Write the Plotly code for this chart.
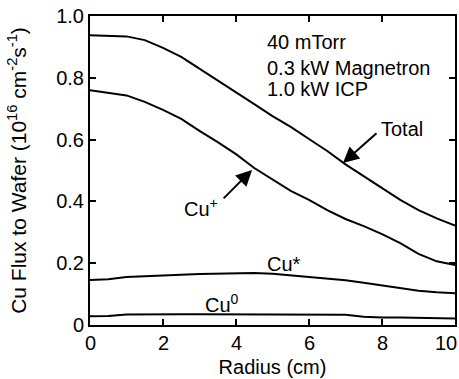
import plotly.graph_objects as go

# Radial positions on the wafer (cm)
radius = [0, 0.5, 1.0, 1.5, 2.0, 2.5, 3.0, 3.5, 4.0, 4.5, 5.0,
          5.5, 6.0, 6.5, 7.0, 7.5, 8.0, 8.5, 9.0, 9.5, 10.0]

# Cu flux components to the wafer (1e16 cm^-2 s^-1)
flux_total = [0.938, 0.937, 0.934, 0.922, 0.897, 0.868, 0.830, 0.793, 0.754, 0.715, 0.676,
              0.641, 0.602, 0.563, 0.520, 0.482, 0.442, 0.405, 0.372, 0.345, 0.322]
flux_ion = [0.760, 0.752, 0.743, 0.722, 0.696, 0.667, 0.628, 0.592, 0.553, 0.508, 0.472,
            0.434, 0.405, 0.372, 0.343, 0.320, 0.294, 0.265, 0.230, 0.206, 0.194]
flux_excited = [0.146, 0.148, 0.155, 0.158, 0.162, 0.163, 0.165, 0.166, 0.168, 0.168, 0.166,
                0.161, 0.156, 0.151, 0.145, 0.137, 0.128, 0.118, 0.111, 0.106, 0.103]
flux_ground = [0.028, 0.029, 0.034, 0.035, 0.035, 0.035, 0.035, 0.035, 0.034, 0.034, 0.034,
               0.034, 0.034, 0.034, 0.033, 0.027, 0.024, 0.024, 0.023, 0.022, 0.021]

x_ticks = [0, 2, 4, 6, 8, 10]
x_tick_text = ["0", "2", "4", "6", "8", "10"]
y_ticks = [0, 0.2, 0.4, 0.6, 0.8, 1.0]
y_tick_text = ["0", "0.2", "0.4", "0.6", "0.8", "1.0"]

condition_lines = ["40 mTorr", "0.3 kW Magnetron", "1.0 kW ICP"]
condition_y = [0.917, 0.833, 0.764]

FONT = "Liberation Sans, Arial, Helvetica, sans-serif"
INK = "black"

fig = go.Figure()
for series in (flux_total, flux_ion, flux_excited, flux_ground):
    fig.add_trace(go.Scatter(x=radius, y=series, mode="lines",
                             line=dict(color=INK, width=2),
                             showlegend=False, hoverinfo="skip"))

# Process conditions
for text, yv in zip(condition_lines, condition_y):
    fig.add_annotation(x=4.79, y=yv, text=text, showarrow=False,
                       xanchor="left", yanchor="middle",
                       font=dict(family=FONT, size=20, color=INK))

# Curve labels
labels = [
    ("Total", 7.92, 0.634, "left"),
    ("Cu<sup>+</sup>", 3.56, 0.379, "right"),
    ("Cu*", 4.79, 0.197, "left"),
    ("Cu<sup>0</sup>", 3.10, 0.068, "left"),
]
for text, xv, yv, anchor in labels:
    fig.add_annotation(x=xv, y=yv, text=text, showarrow=False,
                       xanchor=anchor, yanchor="middle",
                       font=dict(family=FONT, size=20, color=INK))

# Pointer arrows (tip, tail)
arrows = [
    (6.93, 0.524, 7.89, 0.625),
    (4.44, 0.502, 3.62, 0.405),
]
for tx, ty, sx, sy in arrows:
    fig.add_annotation(x=tx, y=ty, ax=sx, ay=sy, axref="x", ayref="y",
                       text="", showarrow=True, arrowhead=2, arrowsize=1.6,
                       arrowwidth=2, arrowcolor=INK)

# Radius tick labels placed under the axis; the last one is kept inside the page edge
for tv, tt in zip(x_ticks, x_tick_text):
    last = tv == x_ticks[-1]
    fig.add_annotation(x=tv, y=0, xref="x", yref="paper", text=tt, showarrow=False,
                       xanchor="right" if last else "center", yanchor="middle",
                       xshift=4 if last else 0, yshift=-18,
                       font=dict(family=FONT, size=20, color=INK))

axis_common = dict(showline=True, linecolor=INK, linewidth=2, mirror="allticks",
                   ticks="inside", ticklen=6, tickwidth=2, tickcolor=INK,
                   showgrid=False, zeroline=False,
                   tickfont=dict(family=FONT, size=20, color=INK))

fig.update_xaxes(range=[0, 10], tickmode="array", tickvals=x_ticks, showticklabels=False,
                 title=dict(text="Radius (cm)", standoff=34,
                            font=dict(family=FONT, size=20, color=INK)),
                 **axis_common)
fig.update_yaxes(range=[0, 1.0], tickmode="array", tickvals=y_ticks, ticktext=y_tick_text,
                 title=dict(text="Cu Flux to Wafer (10<sup>16</sup> cm<sup>-2</sup>s<sup>-1</sup>)",
                            standoff=24, font=dict(family=FONT, size=21, color=INK)),
                 **axis_common)

fig.update_layout(width=459, height=379,
                  margin=dict(l=90, r=4, t=16, b=54, autoexpand=False),
                  paper_bgcolor="white", plot_bgcolor="white",
                  font=dict(family=FONT, color=INK))

fig.write_html("out.html")
